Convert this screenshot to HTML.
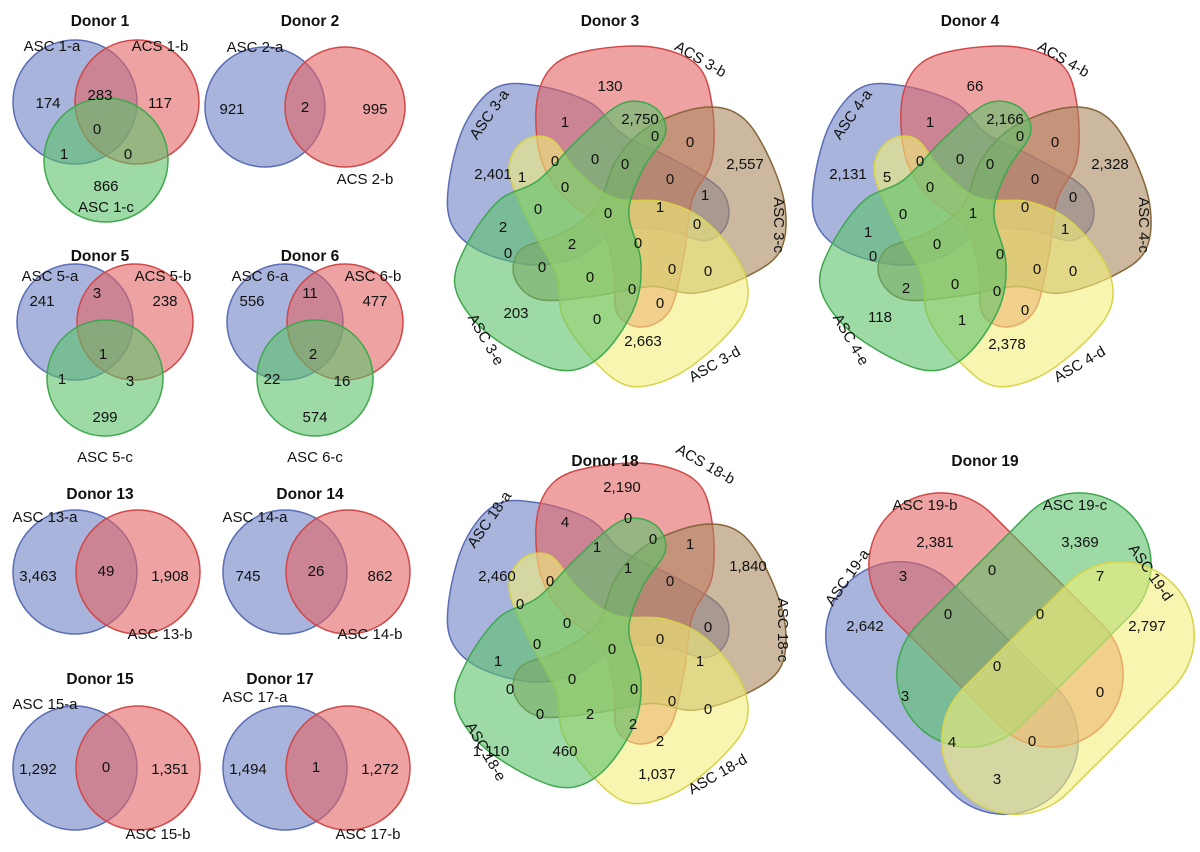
<!DOCTYPE html>
<html><head><meta charset="utf-8"><style>
html,body{margin:0;padding:0;background:#fff;}
svg{display:block;}
text{font-family:"Liberation Sans",Arial,sans-serif;font-size:15px;fill:#111;text-anchor:middle;dominant-baseline:middle;}
.t{font-weight:bold;font-size:15.5px;}
.b{fill:#6f82c4;fill-opacity:.6;stroke:#5a6db5;stroke-width:1.5}
.r{fill:#e26464;fill-opacity:.6;stroke:#d04848;stroke-width:1.5}
.g{fill:#5cc26a;fill-opacity:.6;stroke:#3fa84d;stroke-width:1.5}
.y{fill:#f2ee7a;fill-opacity:.6;stroke:#d8d24a;stroke-width:1.5}
.n{fill:#a8885e;fill-opacity:.6;stroke:#85663a;stroke-width:1.5}
</style></head><body>
<svg id="fig" width="1200" height="852" viewBox="0 0 1200 852">

<!-- Donor 1 -->
<g>
<text class="t" x="100" y="22">Donor 1</text>
<circle class="b" cx="75" cy="102" r="62"/><circle class="r" cx="137" cy="102" r="62"/><circle class="g" cx="106" cy="160" r="62"/>
<text x="52" y="47">ASC 1-a</text><text x="160" y="47">ACS 1-b</text><text x="106" y="208">ASC 1-c</text>
<text x="48" y="104">174</text><text x="100" y="96">283</text><text x="160" y="104">117</text><text x="97" y="130">0</text>
<text x="64" y="155">1</text><text x="128" y="155">0</text><text x="106" y="187">866</text>
</g>
<!-- Donor 2 -->
<g>
<text class="t" x="310" y="22">Donor 2</text>
<circle class="b" cx="265" cy="107" r="60"/><circle class="r" cx="345" cy="107" r="60"/>
<text x="255" y="48">ASC 2-a</text><text x="365" y="180">ACS 2-b</text>
<text x="232" y="110">921</text><text x="305" y="108">2</text><text x="375" y="110">995</text>
</g>
<!-- Donor 5 -->
<g>
<text class="t" x="100" y="257">Donor 5</text>
<circle class="b" cx="75" cy="322" r="58"/><circle class="r" cx="135" cy="322" r="58"/><circle class="g" cx="105" cy="378" r="58"/>
<text x="50" y="277">ASC 5-a</text><text x="163" y="277">ACS 5-b</text><text x="105" y="458">ASC 5-c</text>
<text x="42" y="302">241</text><text x="97" y="294">3</text><text x="165" y="302">238</text><text x="103" y="355">1</text>
<text x="62" y="380">1</text><text x="130" y="382">3</text><text x="105" y="418">299</text>
</g>
<!-- Donor 6 -->
<g>
<text class="t" x="310" y="257">Donor 6</text>
<circle class="b" cx="285" cy="322" r="58"/><circle class="r" cx="345" cy="322" r="58"/><circle class="g" cx="315" cy="378" r="58"/>
<text x="260" y="277">ASC 6-a</text><text x="373" y="277">ASC 6-b</text><text x="315" y="458">ASC 6-c</text>
<text x="252" y="302">556</text><text x="310" y="294">11</text><text x="375" y="302">477</text><text x="313" y="355">2</text>
<text x="272" y="380">22</text><text x="342" y="382">16</text><text x="315" y="418">574</text>
</g>
<!-- Donor 13 -->
<g>
<text class="t" x="100" y="495">Donor 13</text>
<circle class="b" cx="75" cy="572" r="62"/><circle class="r" cx="138" cy="572" r="62"/>
<text x="45" y="518">ASC 13-a</text><text x="160" y="635">ASC 13-b</text>
<text x="38" y="577">3,463</text><text x="106" y="572">49</text><text x="170" y="577">1,908</text>
</g>
<!-- Donor 14 -->
<g>
<text class="t" x="310" y="495">Donor 14</text>
<circle class="b" cx="285" cy="572" r="62"/><circle class="r" cx="348" cy="572" r="62"/>
<text x="255" y="518">ASC 14-a</text><text x="370" y="635">ASC 14-b</text>
<text x="248" y="577">745</text><text x="316" y="572">26</text><text x="380" y="577">862</text>
</g>
<!-- Donor 15 -->
<g>
<text class="t" x="100" y="680">Donor 15</text>
<circle class="b" cx="75" cy="768" r="62"/><circle class="r" cx="138" cy="768" r="62"/>
<text x="45" y="705">ASC 15-a</text><text x="158" y="835">ASC 15-b</text>
<text x="38" y="770">1,292</text><text x="106" y="768">0</text><text x="170" y="770">1,351</text>
</g>
<!-- Donor 17 -->
<g>
<text class="t" x="280" y="680">Donor 17</text>
<circle class="b" cx="285" cy="768" r="62"/><circle class="r" cx="348" cy="768" r="62"/>
<text x="255" y="698">ASC 17-a</text><text x="368" y="835">ASC 17-b</text>
<text x="248" y="770">1,494</text><text x="316" y="768">1</text><text x="380" y="770">1,272</text>
</g>

<!-- Donor 3 -->
<g>
<g id="shapes3"></g>
<text class="t" x="610" y="22">Donor 3</text>
<text transform="translate(490,115) rotate(-55)">ASC 3-a</text><text transform="translate(700,60) rotate(30)">ACS 3-b</text>
<text transform="translate(778,225) rotate(90)">ASC 3-c</text><text transform="translate(715,365) rotate(-30)">ASC 3-d</text>
<text transform="translate(485,340) rotate(60)">ASC 3-e</text>
<text x="610" y="87">130</text><text x="493" y="175">2,401</text><text x="565" y="123">1</text><text x="640" y="120">2,750</text>
<text x="655" y="137">0</text><text x="690" y="143">0</text><text x="745" y="165">2,557</text><text x="555" y="162">0</text>
<text x="595" y="160">0</text><text x="625" y="165">0</text><text x="670" y="180">0</text><text x="705" y="196">1</text>
<text x="522" y="178">1</text><text x="565" y="188">0</text><text x="608" y="214">0</text><text x="660" y="208">1</text>
<text x="697" y="225">0</text><text x="503" y="228">2</text><text x="538" y="210">0</text><text x="572" y="245">2</text>
<text x="638" y="244">0</text><text x="508" y="254">0</text><text x="542" y="268">0</text><text x="590" y="278">0</text>
<text x="672" y="270">0</text><text x="708" y="272">0</text><text x="632" y="290">0</text><text x="597" y="320">0</text>
<text x="660" y="304">0</text><text x="516" y="314">203</text><text x="643" y="342">2,663</text>
</g>
<!-- Donor 4 -->
<g>
<g id="shapes4"></g>
<text class="t" x="970" y="22">Donor 4</text>
<text transform="translate(853,115) rotate(-55)">ASC 4-a</text><text transform="translate(1063,60) rotate(30)">ACS 4-b</text>
<text transform="translate(1143,225) rotate(90)">ASC 4-c</text><text transform="translate(1080,365) rotate(-30)">ASC 4-d</text>
<text transform="translate(850,340) rotate(60)">ASC 4-e</text>
<text x="975" y="87">66</text><text x="848" y="175">2,131</text><text x="930" y="123">1</text><text x="1005" y="120">2,166</text>
<text x="1020" y="137">0</text><text x="1055" y="143">0</text><text x="1110" y="165">2,328</text><text x="920" y="162">0</text>
<text x="960" y="160">0</text><text x="990" y="165">0</text><text x="1035" y="180">0</text><text x="1073" y="198">0</text>
<text x="887" y="178">5</text><text x="930" y="188">0</text><text x="973" y="214">1</text><text x="1025" y="208">0</text>
<text x="1065" y="230">1</text><text x="868" y="233">1</text><text x="903" y="215">0</text><text x="937" y="245">0</text>
<text x="1000" y="255">0</text><text x="873" y="257">0</text><text x="906" y="289">2</text><text x="955" y="285">0</text>
<text x="1037" y="270">0</text><text x="1073" y="272">0</text><text x="997" y="292">0</text><text x="962" y="321">1</text>
<text x="1025" y="311">0</text><text x="880" y="318">118</text><text x="1007" y="345">2,378</text>
</g>
<!-- Donor 18 -->
<g>
<g id="shapes18"></g>
<text class="t" x="605" y="462">Donor 18</text>
<text transform="translate(490,520) rotate(-55)">ASC 18-a</text><text transform="translate(705,465) rotate(30)">ACS 18-b</text>
<text transform="translate(782,630) rotate(90)">ASC 18-c</text><text transform="translate(718,775) rotate(-30)">ASC 18-d</text>
<text transform="translate(485,752) rotate(60)">ASC 18-e</text>
<text x="622" y="488">2,190</text><text x="497" y="577">2,460</text><text x="565" y="523">4</text><text x="628" y="519">0</text>
<text x="690" y="545">1</text><text x="597" y="548">1</text><text x="653" y="540">0</text><text x="748" y="567">1,840</text>
<text x="520" y="605">0</text><text x="550" y="582">0</text><text x="628" y="569">1</text><text x="670" y="582">0</text>
<text x="708" y="628">0</text><text x="567" y="624">0</text><text x="612" y="650">0</text><text x="660" y="640">0</text>
<text x="700" y="662">1</text><text x="498" y="662">1</text><text x="537" y="645">0</text><text x="510" y="690">0</text>
<text x="572" y="680">0</text><text x="634" y="690">0</text><text x="672" y="702">0</text><text x="708" y="710">0</text>
<text x="540" y="715">0</text><text x="590" y="715">2</text><text x="633" y="725">2</text><text x="660" y="742">2</text>
<text x="491" y="752">1,110</text><text x="565" y="752">460</text><text x="657" y="775">1,037</text>
</g>
<!-- Donor 19 -->
<g>
<text class="t" x="985" y="462">Donor 19</text>
<rect class="b" x="-148" y="-74" width="296" height="148" rx="74" transform="translate(952,688) rotate(45)"/>
<rect class="r" x="-150" y="-72" width="300" height="144" rx="72" transform="translate(996,620) rotate(45)"/>
<rect class="g" x="-150" y="-72" width="300" height="144" rx="72" transform="translate(1024,620) rotate(-45)"/>
<rect class="y" x="-148" y="-74" width="296" height="148" rx="74" transform="translate(1068,688) rotate(-45)"/>
<text x="925" y="506">ASC 19-b</text><text x="1075" y="506">ASC 19-c</text>
<text transform="translate(848,578) rotate(-55)">ASC 19-a</text><text transform="translate(1150,573) rotate(55)">ASC 19-d</text>
<text x="935" y="543">2,381</text><text x="1080" y="543">3,369</text><text x="903" y="577">3</text><text x="992" y="571">0</text>
<text x="1100" y="577">7</text><text x="865" y="627">2,642</text><text x="948" y="615">0</text><text x="1040" y="615">0</text>
<text x="1147" y="627">2,797</text><text x="997" y="667">0</text><text x="905" y="697">3</text><text x="1100" y="693">0</text>
<text x="952" y="743">4</text><text x="1032" y="742">0</text><text x="997" y="780">3</text>
</g>
</svg>
<script>
// local outline of one 5-set petal (red, top), relative to diagram centre
const petal = [[-58,-150],[-20,-165],[40,-168],[85,-150],[100,-110],[100,-55],[80,-15],[72,40],[58,95],[30,112],[5,98],[2,55],[-12,12],[-50,-20],[-72,-60],[-75,-115]];
function smooth(pts){
  const n=pts.length;let d='M'+pts[0][0]+','+pts[0][1];
  for(let i=0;i<n;i++){
    const p0=pts[(i-1+n)%n],p1=pts[i],p2=pts[(i+1)%n],p3=pts[(i+2)%n];
    const c1=[p1[0]+(p2[0]-p0[0])/6,p1[1]+(p2[1]-p0[1])/6];
    const c2=[p2[0]-(p3[0]-p1[0])/6,p2[1]-(p3[1]-p1[1])/6];
    d+=' C'+c1[0].toFixed(1)+','+c1[1].toFixed(1)+' '+c2[0].toFixed(1)+','+c2[1].toFixed(1)+' '+p2[0]+','+p2[1];
  }
  return d+'Z';
}
const NS='http://www.w3.org/2000/svg';
const d=smooth(petal);
const sets=[['b',-72,'set-a'],['r',0,'set-b'],['n',72,'set-c'],['y',144,'set-d'],['g',216,'set-e']];
[['shapes3',612,215],['shapes4',977,215],['shapes18',612,632]].forEach(([id,cx,cy])=>{
  const g=document.getElementById(id);
  sets.forEach(([cls,rot,nm])=>{
    const p=document.createElementNS(NS,'path');
    p.setAttribute('d',d);p.setAttribute('class',cls);
    p.setAttribute('transform','translate('+cx+','+cy+') rotate('+rot+')');
    
    
    g.appendChild(p);
  });
});
</script>
</body></html>
